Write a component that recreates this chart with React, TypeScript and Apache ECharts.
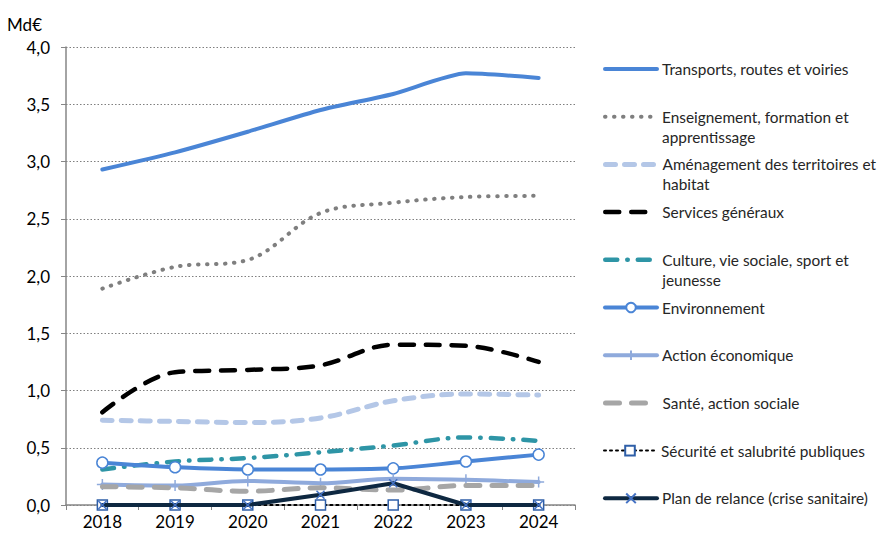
import React, { useEffect, useRef } from "react";
import * as echarts from "echarts";

const years = ["2018", "2019", "2020", "2021", "2022", "2023", "2024"];
const yTicks = [0, 0.5, 1, 1.5, 2, 2.5, 3, 3.5, 4];

const seriesNames = [
  "Transports, routes et voiries",
  "Enseignement, formation et apprentissage",
  "Aménagement des territoires et habitat",
  "Services généraux",
  "Culture, vie sociale, sport et jeunesse",
  "Environnement",
  "Action économique",
  "Santé, action sociale",
  "Sécurité et salubrité publiques",
  "Plan de relance (crise sanitaire)",
];
const legendLabels = [
  ["Transports, routes et voiries"],
  ["Enseignement, formation et", "apprentissage"],
  ["Aménagement des territoires et", "habitat"],
  ["Services généraux"],
  ["Culture, vie sociale, sport et", "jeunesse"],
  ["Environnement"],
  ["Action économique"],
  ["Santé, action sociale"],
  ["Sécurité et salubrité publiques"],
  ["Plan de relance (crise sanitaire)"],
];

const transports = [2.93, 3.08, 3.26, 3.45, 3.59, 3.77, 3.73];
const enseignement = [1.89, 2.08, 2.14, 2.55, 2.64, 2.69, 2.7];
const amenagement = [0.74, 0.73, 0.72, 0.76, 0.91, 0.97, 0.96];
const services = [0.81, 1.16, 1.18, 1.22, 1.4, 1.39, 1.25];
const culture = [0.31, 0.38, 0.41, 0.46, 0.52, 0.59, 0.56];
const environnement = [0.37, 0.33, 0.31, 0.31, 0.32, 0.38, 0.44];
const actionEco = [0.18, 0.17, 0.21, 0.19, 0.23, 0.22, 0.2];
const sante = [0.16, 0.15, 0.12, 0.15, 0.13, 0.17, 0.17];
const securite = [0, 0, 0, 0, 0, 0, 0];
const planRelance = [0, 0, 0, 0.09, 0.19, 0, 0];

const FONT = "Lato, 'Open Sans', sans-serif";

export default function App() {
  const ref = useRef<HTMLDivElement>(null);
  useEffect(() => {
    if (!ref.current) return;
    const chart = echarts.init(ref.current, null, { renderer: "svg" });

    const mk = (
      i: number,
      data: number[],
      color: string,
      width: number,
      type: any,
      extra: any = {}
    ) => ({
      name: seriesNames[i],
      type: "line",
      data,
      smooth: 0.35,
      symbol: "none",
      z: 2 + i,
      lineStyle: { color, width, type, cap: "round", join: "round" },
      itemStyle: { color },
      ...extra,
    });

    const series = [
      mk(0, transports, "#4A85D6", 4, "solid", { smooth: 0.2 }),
      mk(1, enseignement, "#7F7F7F", 4, [0.5, 8.5]),
      mk(2, amenagement, "#B4C7E7", 5, [10, 9]),
      mk(3, services, "#000000", 4.5, [14, 12]),
      mk(4, culture, "#2E95A6", 4.5, [12, 10, 0.5, 10]),
      mk(5, environnement, "#4A85D6", 4, "solid", {
        symbol: "circle",
        symbolSize: 11,
        itemStyle: { color: "#FFFFFF", borderColor: "#4A85D6", borderWidth: 1.5 },
      }),
      mk(6, actionEco, "#8FAADC", 4, "solid", {
        symbol: "path://M5,0V10M0,5H10",
        symbolSize: 11,
        itemStyle: { color: "#8FAADC", borderColor: "#8FAADC", borderWidth: 1.5 },
      }),
      mk(7, sante, "#A6A6A6", 5, [14, 12]),
      mk(8, securite, "#000000", 2, [2, 4], {
        smooth: false,
        symbol: "rect",
        symbolSize: 10,
        lineStyle: { color: "#000000", width: 2, type: [2, 4], cap: "round" },
        itemStyle: { color: "#FFFFFF", borderColor: "#2F5FA8", borderWidth: 1.5 },
      }),
      mk(9, planRelance, "#0E2841", 4, "solid", {
        smooth: false,
        symbol: "path://M0,0L10,10M10,0L0,10",
        symbolSize: 8,
        itemStyle: { color: "#4472C4", borderColor: "#4472C4", borderWidth: 1.5 },
      }),
    ];
    const hasMarker = [false, false, false, false, false, true, true, false, true, true];

    const legends = seriesNames.map((name, i) => {
      const lines = legendLabels[i];
      const yc = 69 + i * 47.7;
      const text = lines.length > 1 ? "\n" + lines.join("\n") : lines[0];
      const h = lines.length > 1 ? 60 : 20;
      return {
        data: [name],
        left: 603,
        top: yc - h / 2,
        orient: "vertical",
        padding: 0,
        itemGap: 0,
        itemWidth: 52,
        itemHeight: 12,
        selectedMode: false,
        formatter: () => text,
        lineStyle: { width: "inherit" },
        itemStyle: hasMarker[i] ? {} : { opacity: 0 },
        textStyle: { fontFamily: FONT, fontSize: 15.4, color: "#262626", lineHeight: 20 },
      };
    });

    chart.setOption({
      animation: false,
      backgroundColor: "#FFFFFF",
      grid: { left: 66, right: 305, top: 47, bottom: 31 },
      legend: legends,
      xAxis: {
        type: "category",
        data: years,
        boundaryGap: true,
        axisLine: { lineStyle: { color: "#868686", width: 1.5 } },
        axisTick: { show: true, length: 5, lineStyle: { color: "#868686" } },
        axisLabel: { fontFamily: FONT, fontSize: 17, color: "#000000", margin: 8 },
      },
      yAxis: {
        type: "value",
        min: yTicks[0],
        max: yTicks[yTicks.length - 1],
        interval: 0.5,
        name: "Md€",
        nameLocation: "end",
        nameGap: 14,
        nameTextStyle: {
          fontFamily: FONT,
          fontSize: 17,
          color: "#000000",
          align: "right",
          padding: [0, 24, 0, 0],
        },
        axisLine: { show: true, lineStyle: { color: "#868686", width: 1.5 } },
        axisTick: { show: true, length: 5, lineStyle: { color: "#868686" } },
        axisLabel: {
          fontFamily: FONT,
          fontSize: 17,
          color: "#000000",
          margin: 16,
          formatter: (v: number) => v.toFixed(1).replace(".", ","),
        },
        splitLine: { show: true, lineStyle: { color: "#7F7F7F", width: 1, type: [1.5, 2] } },
      },
      series,
    });
    return () => chart.dispose();
  }, []);
  return (
    <div
      ref={ref}
      style={{ position: "fixed", left: 0, top: 0, width: 880, height: 536, background: "#fff" }}
    />
  );
}
